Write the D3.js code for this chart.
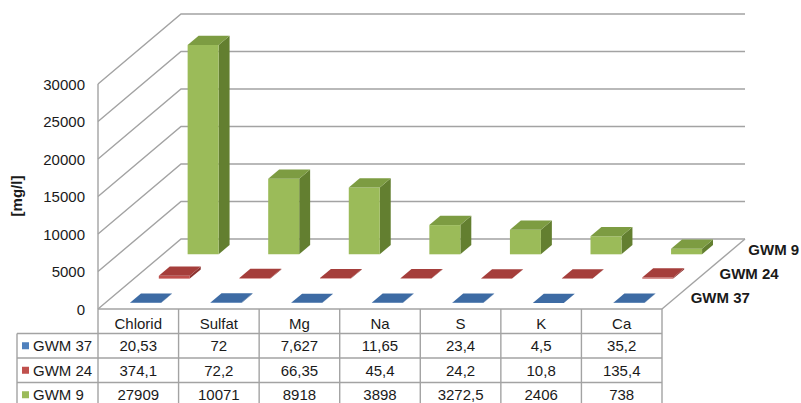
<!DOCTYPE html>
<html>
<head>
<meta charset="utf-8">
<script src="https://cdn.jsdelivr.net/npm/d3@7"></script>
<style>
  html, body { margin: 0; padding: 0; background: #fff; }
  svg { display: block; font-family: "Liberation Sans", Arial, sans-serif; }
</style>
</head>
<body>
<svg id="chart" width="801" height="403"></svg>
<script>
// Ion concentrations per sample well [mg/l]
const categories = ["Chlorid", "Sulfat", "Mg", "Na", "S", "K", "Ca"];
const seriesNames = ["GWM 37", "GWM 24", "GWM 9"];           // front to back
const gwm37 = [20.53, 72, 7.627, 11.65, 23.4, 4.5, 35.2];
const gwm24 = [374.1, 72.2, 66.35, 45.4, 24.2, 10.8, 135.4];
const gwm9  = [27909, 10071, 8918, 3898, 3272.5, 2406, 738];
const tableLabels = [
  ["20,53", "72", "7,627", "11,65", "23,4", "4,5", "35,2"],
  ["374,1", "72,2", "66,35", "45,4", "24,2", "10,8", "135,4"],
  ["27909", "10071", "8918", "3898", "3272,5", "2406", "738"]
];
const yTicks = [0, 5000, 10000, 15000, 20000, 25000, 30000];

const seriesValues = [gwm37, gwm24, gwm9];
const palette = [
  { front: "#4F81BD", top: "#3D6BA4", side: "#335A8A" },
  { front: "#C0504D", top: "#A53E3B", side: "#8C3330" },
  { front: "#9BBB59", top: "#7D9C42", side: "#637F30" }
];

const svg = d3.select("#chart");

// front plane of the plot box
const plotLeft = 98, plotRight = 662, plotBase = 309, plotTop = 84;
// oblique depth offset of the back wall
const depthDX = 83, depthDY = -70;

const x = d3.scaleBand().domain(categories).range([plotLeft, plotRight]);
const y = d3.scaleLinear().domain([0, 30000]).range([plotBase, plotTop]);
const z = d3.scaleBand().domain(seriesNames).range([0, 1])
  .paddingInner(0.62).paddingOuter(0.25);

const barW = 31;
const P = (xf, d, v) => [xf + depthDX * d, y(v) + depthDY * d];
const poly = pts => pts.map(p => p.join(",")).join(" ");

const grid = "#A3A3A3";

// gridlines: left wall diagonals + back wall horizontals
const gridG = svg.append("g");
yTicks.forEach(t => {
  const a = P(plotLeft, 0, t), b = P(plotLeft, 1, t), c = P(plotRight, 1, t);
  gridG.append("polyline")
    .attr("points", poly([a, b, c]))
    .attr("fill", "none").attr("stroke", grid).attr("stroke-width", 1.4);
});
// floor right edge
{
  const a = P(plotRight, 0, 0), b = P(plotRight, 1, 0);
  gridG.append("line").attr("x1", a[0]).attr("y1", a[1]).attr("x2", b[0]).attr("y2", b[1])
    .attr("stroke", grid).attr("stroke-width", 1.4);
}
// vertical value axis
gridG.append("line").attr("x1", plotLeft).attr("x2", plotLeft).attr("y1", y(30000)).attr("y2", plotBase)
  .attr("stroke", grid).attr("stroke-width", 1.4);

// value axis labels
svg.append("g").selectAll("text").data(yTicks).join("text")
  .attr("x", 85).attr("y", d => y(d) + 5.5)
  .attr("text-anchor", "end").attr("font-size", 15).attr("fill", "#1a1a1a")
  .text(d => d);

svg.append("text")
  .attr("transform", "translate(22,196) rotate(-90)")
  .attr("text-anchor", "middle").attr("font-size", 15).attr("font-weight", "bold")
  .attr("fill", "#1a1a1a").text("[mg/l]");

// 3D columns, back row first
const barsG = svg.append("g");
for (let s = seriesNames.length - 1; s >= 0; s--) {
  const d0 = z(seriesNames[s]), d1 = d0 + z.bandwidth();
  const col = palette[s];
  categories.forEach((c, i) => {
    const v = seriesValues[s][i];
    const cx = x(c) + x.bandwidth() / 2;
    const x0 = cx - barW / 2, x1 = cx + barW / 2;
    const g = barsG.append("g");
    // right side
    g.append("polygon").attr("fill", col.side)
      .attr("points", poly([P(x1, d0, 0), P(x1, d0, v), P(x1, d1, v), P(x1, d1, 0)]));
    // front
    g.append("polygon").attr("fill", col.front)
      .attr("points", poly([P(x0, d0, 0), P(x1, d0, 0), P(x1, d0, v), P(x0, d0, v)]));
    // top
    g.append("polygon").attr("fill", col.top)
      .attr("points", poly([P(x0, d0, v), P(x1, d0, v), P(x1, d1, v), P(x0, d1, v)]));
  });
}

// series labels along the depth axis
svg.append("g").selectAll("text").data(seriesNames).join("text")
  .attr("x", d => P(plotRight, z(d) + z.bandwidth() / 2, 0)[0] + 16)
  .attr("y", d => P(plotRight, z(d) + z.bandwidth() / 2, 0)[1] + 5)
  .attr("font-size", 15).attr("font-weight", "bold").attr("fill", "#1a1a1a")
  .text(d => d);

// data table
const rowTop = plotBase, rowH = 24.5, tableLeft = 17;
const tbl = svg.append("g");
const line = (x1, y1, x2, y2) => tbl.append("line")
  .attr("x1", x1).attr("y1", y1).attr("x2", x2).attr("y2", y2)
  .attr("stroke", grid).attr("stroke-width", 1.4);
const tableBottom = rowTop + rowH * 4;
line(plotLeft, rowTop, plotRight, rowTop);
for (let r = 1; r <= 4; r++) line(tableLeft, rowTop + rowH * r, plotRight, rowTop + rowH * r);
line(tableLeft, rowTop + rowH, tableLeft, tableBottom);
categories.forEach(c => line(x(c), rowTop, x(c), tableBottom));
line(plotRight, rowTop, plotRight, tableBottom);

tbl.selectAll("text.head").data(categories).join("text")
  .attr("class", "head")
  .attr("x", d => x(d) + x.bandwidth() / 2).attr("y", rowTop + 20)
  .attr("text-anchor", "middle").attr("font-size", 15).attr("fill", "#1a1a1a")
  .text(d => d);

seriesNames.forEach((name, s) => {
  const cy = rowTop + rowH * (s + 1) + rowH / 2;
  tbl.append("rect").attr("x", 22).attr("y", cy - 3.5).attr("width", 7).attr("height", 7)
    .attr("fill", palette[s].front);
  tbl.append("text").attr("x", 33).attr("y", cy + 5.5)
    .attr("font-size", 15).attr("fill", "#1a1a1a").text(name);
  tbl.selectAll(null).data(categories).join("text")
    .attr("x", d => x(d) + x.bandwidth() / 2).attr("y", cy + 5.5)
    .attr("text-anchor", "middle").attr("font-size", 15).attr("fill", "#1a1a1a")
    .text((d, i) => tableLabels[s][i]);
});
</script>
</body>
</html>
